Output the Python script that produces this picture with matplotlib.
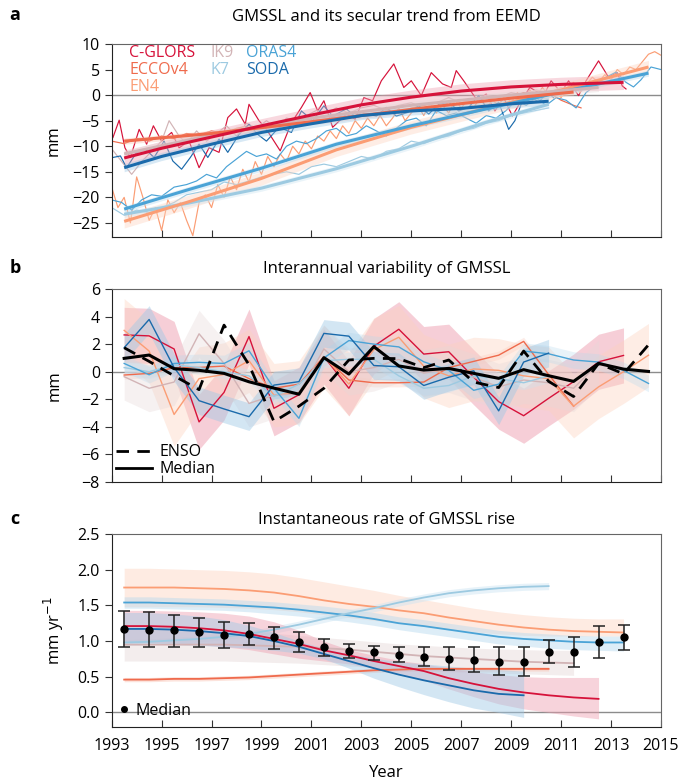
import numpy as np
import matplotlib.pyplot as plt
from matplotlib.lines import Line2D

plt.rcParams['font.family'] = ['Open Sans', 'DejaVu Sans']
plt.rcParams['font.size'] = 11.5

names = ['C-GLORS', 'ECCOv4', 'EN4', 'IK9', 'K7', 'ORAS4', 'SODA']
colors = {'C-GLORS': '#d6123a', 'ECCOv4': '#ef6a4c', 'EN4': '#fb9d74', 'IK9': '#d2b4b6',
          'K7': '#9dcae1', 'ORAS4': '#4aa3d6', 'SODA': '#1a6aab'}
band_colors = {'C-GLORS': '#ee9fb0', 'ECCOv4': '#f9c2b2', 'EN4': '#fdd3bf', 'IK9': '#e6d8d8',
               'K7': '#cbe4f2', 'ORAS4': '#b5d9ee', 'SODA': '#9fc9e6'}

# ---------- panel a: GMSSL (mm) ----------
raw_t = {
    'C-GLORS': [1993.05, 1993.3, 1993.53, 1993.75, 1994.1, 1994.4, 1994.67, 1995.0, 1995.4, 1995.7, 1996.1, 1996.5,
                1996.9, 1997.3, 1997.65, 1998.0, 1998.35, 1998.5, 1998.9, 1999.2, 1999.75, 2000.2, 2000.6, 2000.95,
                2001.25, 2001.5, 2001.85, 2002.4, 2002.75, 2003.1, 2003.45, 2003.8, 2004.3, 2004.7, 2005.0, 2005.4,
                2005.8, 2006.25, 2006.6, 2006.8, 2007.1, 2007.65, 2008.0, 2008.35, 2008.7, 2009.05, 2009.4, 2009.75,
                2010.3, 2010.6, 2011.0, 2011.3, 2011.7, 2012.0, 2012.5, 2012.9, 2013.25, 2013.45, 2013.6],
    'SODA': [1993.05, 1993.35, 1993.6, 1994.0, 1994.35, 1994.7, 1995.1, 1995.45, 1995.8, 1996.15, 1996.5, 1996.85,
             1997.3, 1997.65, 1998.1, 1998.5, 1998.85, 1999.2, 1999.7, 2000.2, 2000.6, 2001.05, 2001.5, 2001.85,
             2002.4, 2002.8, 2003.25, 2003.6, 2004.0, 2004.4, 2004.85, 2005.3, 2005.7, 2006.1, 2006.5, 2006.9,
             2007.3, 2007.7, 2008.1, 2008.5, 2008.9, 2009.15, 2009.4, 2009.75, 2010.1, 2010.45, 2010.7],
    'ORAS4': [1993.0, 1993.4, 1993.8, 1994.2, 1994.6, 1995.0, 1995.5, 1996.0, 1996.4, 1996.8, 1997.2, 1997.6,
              1998.0, 1998.4, 1998.8, 1999.2, 1999.6, 2000.0, 2000.4, 2000.8, 2001.2, 2001.6, 2002.0, 2002.4,
              2002.8, 2003.2, 2003.6, 2004.0, 2004.4, 2004.8, 2005.2, 2005.6, 2006.0, 2006.4, 2006.8, 2007.2,
              2007.6, 2008.0, 2008.4, 2008.8, 2009.2, 2009.6, 2010.0, 2010.4, 2010.8, 2011.2, 2011.6, 2012.0,
              2012.4, 2012.8, 2013.2, 2013.6, 2013.9, 2014.2, 2014.6, 2015.0],
    'K7': [1993.0, 1993.5, 1994.0, 1994.5, 1995.0, 1995.5, 1996.0, 1996.5, 1997.0, 1997.5, 1998.0, 1998.5,
           1999.0, 1999.5, 2000.0, 2000.5, 2001.0, 2001.5, 2002.0, 2002.5, 2003.0, 2003.5, 2004.0, 2004.5,
           2005.0, 2005.5, 2006.0, 2006.5, 2007.0, 2007.5, 2008.0, 2008.5, 2009.0, 2009.5, 2010.0, 2010.5],
    'EN4': [1993.0, 1993.25, 1993.5, 1993.75, 1994.0, 1994.25, 1994.5, 1994.75, 1995.0, 1995.25, 1995.5, 1995.75,
            1996.0, 1996.25, 1996.5, 1996.75, 1997.0, 1997.25, 1997.5, 1997.75, 1998.0, 1998.25, 1998.5, 1998.75,
            1999.0, 1999.25, 1999.5, 1999.75, 2000.0, 2000.25, 2000.5, 2000.75, 2001.0, 2001.25, 2001.5, 2001.75,
            2002.0, 2002.25, 2002.5, 2002.75, 2003.0, 2003.25, 2003.5, 2003.75, 2004.0, 2004.25, 2004.5, 2004.75,
            2005.0, 2005.25, 2005.5, 2005.75, 2006.0, 2006.25, 2006.5, 2006.75, 2007.0, 2007.25, 2007.5, 2007.75,
            2008.0, 2008.25, 2008.5, 2008.75, 2009.0, 2009.25, 2009.5, 2009.75, 2010.0, 2010.25, 2010.5, 2010.75,
            2011.0, 2011.25, 2011.5, 2011.75, 2012.0, 2012.25, 2012.5, 2012.75, 2013.0, 2013.25, 2013.5, 2013.75,
            2014.0, 2014.25, 2014.5, 2014.75, 2015.0],
    'ECCOv4': [1993.0, 1993.5, 1994.0, 1994.5, 1995.0, 1995.5, 1996.0, 1996.5, 1997.0, 1997.5, 1998.0, 1998.5,
               1999.0, 1999.5, 2000.0, 2000.5, 2001.0, 2001.5, 2002.0, 2002.5, 2003.0, 2003.5, 2004.0, 2004.5,
               2005.0, 2005.5, 2006.0, 2006.5, 2007.0, 2007.5, 2008.0, 2008.5, 2009.0, 2009.5, 2010.0, 2010.5,
               2011.0, 2011.5, 2011.8],
    'IK9': [1993.0, 1993.4, 1993.8, 1994.2, 1994.6, 1995.0, 1995.3, 1995.7, 1996.0, 1996.4, 1996.8, 1997.2,
            1997.6, 1998.0, 1998.4, 1998.8, 1999.2, 1999.6, 2000.0, 2000.4, 2000.8, 2001.2, 2001.6, 2002.0,
            2002.5, 2003.0, 2003.5, 2004.0, 2004.5, 2005.0, 2005.5, 2006.0, 2006.5, 2007.0, 2007.5, 2008.0,
            2008.5, 2009.0, 2009.5, 2010.0, 2010.5, 2011.0, 2011.5, 2012.0, 2012.5],
}
raw_v = {
    'C-GLORS': [-8.3, -4.9, -10.3, -12.2, -6.7, -9.6, -6.0, -9.0, -7.3, -10.3, -9.0, -14.2,
                -10.3, -11.2, -4.4, -2.7, -5.7, -1.8, -5.0, -6.7, -10.9, -5.4, -2.4, 0.5,
                -3.1, -1.1, -6.3, -3.7, -4.7, -0.5, -1.1, 2.8, 6.1, 1.5, 2.8, -0.1,
                4.4, 2.2, 1.5, 4.8, 2.8, -1.1, 0.2, -3.1, -0.5, -4.1, -1.1, 1.5,
                -0.1, 2.8, 0.5, 2.8, -0.1, 2.8, 6.7, 3.5, 4.4, 1.8, 1.2],
    'SODA': [-12.2, -11.9, -14.2, -11.2, -10.6, -12.2, -9.0, -12.9, -14.5, -12.2, -9.6, -12.2,
             -8.6, -11.2, -7.7, -5.7, -7.7, -9.0, -6.3, -7.3, -3.1, -5.0, -2.1, -4.1,
             -2.7, -4.4, -3.7, -4.1, -2.4, -4.1, -3.4, -2.1, -3.7, -1.8, -1.4, -3.1,
             -2.4, -0.1, -3.1, -1.4, -6.7, -5.0, -1.8, -0.1, -1.4, 0.5, -0.5],
    'ORAS4': [-20.5, -21.0, -22.5, -20.5, -19.5, -19.8, -18.0, -17.5, -16.8, -15.5, -16.2, -14.0,
              -12.5, -11.0, -12.0, -11.5, -12.5, -10.0, -9.0, -9.5, -8.5, -7.0, -6.5, -8.0,
              -7.5, -6.0, -7.0, -8.0, -6.5, -5.0, -4.5, -6.0, -3.0, -4.0, -3.5, -4.5,
              -5.5, -4.0, -4.5, -3.0, -1.0, -2.0, -0.5, -2.0, -0.5, -1.0, -2.5, 0.5,
              2.0, 3.5, 4.5, 2.5, 1.6, 3.0, 5.5, 5.0],
    'K7': [-22.0, -23.5, -22.5, -23.0, -22.0, -21.0, -19.5, -19.0, -18.5, -17.0, -17.5, -16.8,
           -16.0, -15.5, -15.0, -15.5, -14.0, -13.5, -14.0, -13.0, -12.0, -12.5, -11.0, -10.5,
           -9.0, -9.5, -8.5, -8.0, -7.0, -6.5, -5.5, -5.0, -4.0, -3.5, -3.0, -2.5],
    'EN4': [-18.0, -22.0, -20.0, -25.0, -16.0, -20.0, -24.5, -22.0, -26.5, -20.5, -23.0, -21.0,
            -24.5, -27.5, -21.0, -19.5, -22.0, -17.5, -20.0, -16.0, -18.5, -14.5, -17.0, -13.0,
            -15.5, -12.0, -14.0, -11.5, -13.0, -10.0, -11.5, -9.0, -10.5, -8.0, -9.0, -7.0,
            -8.5, -6.0, -7.5, -5.0, -6.5, -4.5, -6.0, -4.0, -6.0, -4.5, -2.5, -5.0,
            -3.5, -2.0, -4.0, -1.5, -3.5, -2.0, -3.5, -1.0, -2.5, -1.0, -2.5, -0.5,
            -2.5, -1.0, -2.0, 0.0, -1.5, 0.5, -1.0, 1.0, -0.5, 1.5, 0.0, 1.0,
            -0.5, 1.5, 2.5, 0.5, 2.0, 3.5, 2.5, 4.0, 3.0, 5.0, 4.0, 5.5,
            5.0, 6.5, 8.0, 8.5, 7.8],
    'ECCOv4': [-9.0, -9.5, -8.5, -9.0, -8.0, -8.5, -7.5, -7.8, -7.0, -7.5, -6.5, -6.0,
               -6.5, -6.0, -5.5, -5.0, -4.5, -5.0, -4.0, -4.5, -3.5, -4.0, -3.0, -3.5,
               -2.5, -2.0, -2.5, -1.5, -1.0, -1.5, -0.5, -1.0, -0.5, 0.5, 0.0, 0.5,
               -1.0, -2.0, -2.5],
    'IK9': [-10.5, -13.0, -15.5, -13.0, -11.0, -9.0, -5.0, -8.0, -9.5, -7.0, -9.0, -7.5,
            -6.0, -8.0, -5.5, -6.5, -5.0, -6.5, -4.5, -5.0, -4.0, -3.0, -3.5, -2.5,
            -3.5, -2.5, -2.0, -3.0, -2.0, -1.5, -2.5, -1.5, -0.5, -1.5, -1.0, 0.0,
            -0.5, 0.5, 0.0, 1.0, 0.5, 1.5, 1.0, 2.0, 1.5],
}
trend_t = {
    'C-GLORS': [1993.5, 1995, 1997, 1999, 2001, 2003, 2005, 2007, 2009, 2011, 2013.5],
    'ECCOv4': [1993.5, 1997, 2000, 2003, 2006, 2009, 2011.5],
    'EN4': [1993.5, 1996, 1999, 2002, 2005, 2008, 2011, 2014.5],
    'IK9': [1993.5, 1997, 2001, 2005, 2009, 2012.5],
    'K7': [1993.5, 1996, 1999, 2002, 2005, 2008, 2010.5],
    'ORAS4': [1993.5, 1996, 1999, 2002, 2005, 2008, 2011, 2014.5],
    'SODA': [1993.5, 1995, 1997, 1999, 2001, 2003, 2005, 2007, 2009, 2010.5],
}
trend_v = {
    'C-GLORS': [-12.3, -10.4, -8.2, -6.0, -3.9, -1.9, -0.4, 0.8, 1.6, 2.1, 2.5],
    'ECCOv4': [-9.0, -7.5, -5.8, -4.0, -2.2, -0.6, 0.6],
    'EN4': [-24.7, -21.0, -16.3, -10.7, -6.3, -2.6, 1.0, 5.5],
    'IK9': [-11.5, -7.8, -4.5, -2.0, 0.0, 1.5],
    'K7': [-23.3, -21.2, -18.2, -14.4, -10.0, -5.3, -1.8],
    'ORAS4': [-22.3, -18.6, -14.3, -9.6, -6.0, -2.7, 0.6, 4.3],
    'SODA': [-14.2, -12.0, -9.6, -7.3, -5.6, -4.0, -3.1, -2.6, -1.7, -1.2],
}
trend_spread = {'C-GLORS': 1.4, 'ECCOv4': 0.6, 'EN4': 1.3, 'IK9': 0.8, 'K7': 0.6, 'ORAS4': 0.6, 'SODA': 0.8}

# ---------- panel b: interannual variability (mm) ----------
years_b = [1993.5 + i for i in range(22)]
iav = {
    'C-GLORS': [2.67, 2.6, 1.65, -3.64, -1.5, 2.55, -2.65, -1.67, 1.1, -1.2, 1.85, 3.08, 1.28, 1.45, -0.4,
                -2.17, -3.19, -1.93, -0.72, 0.72, 1.18],
    'ECCOv4': [-0.24, -0.12, 0.29, 0.31, 0.41, -0.5, -1.2, -0.9, 1.1, -0.6, -0.8, -0.8, -0.75, 0.3, 0.75,
               1.2, 2.2, -0.2, -2.5],
    'EN4': [3.0, 1.5, -3.1, -0.5, -0.2, 0.8, -1.7, -1.5, 1.1, -0.9, 1.6, 2.5, 0.4, -0.3, 0.2,
            0.1, -0.3, -0.5, -2.5, -1.1, 0.0, 1.2],
    'IK9': [-0.36, -1.2, -0.75, 2.75, 0.6, -2.3, -1.7, -1.6, 1.65, 0.0, 0.3, 0.9, -0.1, 0.2, -0.4,
            -1.1, -0.6, -0.8, -1.2, 0.6],
    'K7': [0.3, 0.0, 0.5, 0.3, 0.0, -0.3, -1.8, -0.9, 0.8, 0.9, 0.9, -0.3, -1.2, -1.0, -0.3,
           -0.5, -0.8, -0.3],
    'ORAS4': [0.6, -0.22, 0.6, 0.68, 0.6, 1.52, -1.2, -3.38, 1.0, 2.26, 2.0, 1.8, 0.72, 0.1, -1.35,
              -0.9, 1.5, 1.3, 0.85, 0.7, 0.1, -0.85],
    'SODA': [1.74, 3.79, 0.3, -2.1, -2.7, -3.26, -0.97, -0.72, 2.78, 2.58, 0.45, 0.36, -1.0, -0.4, 0.07,
             -2.84, 0.7, 1.35],
}
iav_spread = {'C-GLORS': 2.0, 'ECCOv4': 0.3, 'EN4': 2.3, 'IK9': 1.7, 'K7': 0.5, 'ORAS4': 0.6, 'SODA': 1.0}
iav_alpha = {'C-GLORS': 0.5, 'ECCOv4': 0.3, 'EN4': 0.4, 'IK9': 0.35, 'K7': 0.35, 'ORAS4': 0.3, 'SODA': 0.45}
enso = [1.74, 0.75, -0.3, -1.3, 3.38, 0.5, -3.62, -2.5, -1.2, 0.85, 0.97, 0.95, 0.3, 0.85, -0.75,
        -1.15, 1.5, -0.7, -1.8, 0.6, -0.15, 1.95]
median_b = [0.97, 1.21, 0.22, 0.1, -0.12, -0.73, -1.19, -1.63, 1.02, -0.17, 1.82, 0.42, 0.12, 0.24, -0.12,
            -0.48, 0.15, -0.29, -0.7, 0.6, 0.19, 0.02]

# ---------- panel c: instantaneous rate (mm/yr) ----------
years_c = [1993.5 + i for i in range(21)]
rate = {
    'EN4': [1.75, 1.75, 1.75, 1.74, 1.73, 1.71, 1.68, 1.63, 1.57, 1.52, 1.48, 1.43, 1.39, 1.33, 1.28,
            1.23, 1.19, 1.16, 1.14, 1.13, 1.12],
    'ORAS4': [1.54, 1.54, 1.53, 1.52, 1.51, 1.49, 1.47, 1.44, 1.40, 1.36, 1.31, 1.25, 1.21, 1.16, 1.11,
              1.06, 1.03, 1.01, 0.99, 0.98, 0.98],
    'K7': [0.98, 0.99, 1.01, 1.03, 1.06, 1.10, 1.16, 1.23, 1.31, 1.39, 1.46, 1.54, 1.61, 1.67, 1.71,
           1.74, 1.76, 1.77],
    'IK9': [0.95, 0.95, 0.95, 0.95, 0.95, 0.94, 0.93, 0.92, 0.90, 0.88, 0.85, 0.82, 0.79, 0.77, 0.75,
            0.73, 0.71, 0.70, 0.69],
    'ECCOv4': [0.46, 0.46, 0.47, 0.47, 0.48, 0.49, 0.51, 0.53, 0.55, 0.57, 0.59, 0.60, 0.61, 0.61, 0.61,
               0.61, 0.61, 0.61],
    'C-GLORS': [1.21, 1.21, 1.20, 1.18, 1.15, 1.10, 1.03, 0.96, 0.87, 0.80, 0.72, 0.65, 0.58, 0.48, 0.40,
                0.33, 0.28, 0.24, 0.21, 0.19],
    'SODA': [1.17, 1.17, 1.16, 1.14, 1.11, 1.07, 1.00, 0.92, 0.82, 0.72, 0.62, 0.53, 0.45, 0.38, 0.31,
             0.26, 0.24],
}
rate_lo = {
    'EN4': [1.48, 1.48, 1.48, 1.48, 1.47, 1.46, 1.44, 1.41, 1.37, 1.33, 1.29, 1.25, 1.21, 1.17, 1.13,
            1.10, 1.08, 1.07, 1.07, 1.07, 1.07],
    'ORAS4': [1.46, 1.46, 1.45, 1.44, 1.43, 1.41, 1.38, 1.35, 1.31, 1.27, 1.22, 1.16, 1.11, 1.06, 1.01,
              0.96, 0.93, 0.90, 0.88, 0.87, 0.86],
    'K7': [0.94, 0.95, 0.97, 0.99, 1.02, 1.06, 1.11, 1.18, 1.26, 1.34, 1.41, 1.49, 1.56, 1.62, 1.66,
           1.69, 1.71, 1.72],
    'IK9': [0.72, 0.72, 0.72, 0.72, 0.72, 0.71, 0.70, 0.69, 0.67, 0.65, 0.63, 0.61, 0.59, 0.57, 0.56,
            0.55, 0.54, 0.53, 0.52],
    'ECCOv4': [0.43, 0.43, 0.44, 0.44, 0.45, 0.46, 0.48, 0.50, 0.52, 0.54, 0.56, 0.57, 0.58, 0.58, 0.58,
               0.58, 0.58, 0.58],
    'C-GLORS': [0.98, 0.98, 0.97, 0.95, 0.92, 0.88, 0.82, 0.76, 0.72, 0.68, 0.62, 0.55, 0.45, 0.33, 0.22,
                0.12, 0.05, 0.0, -0.05, -0.09],
    'SODA': [0.95, 0.95, 0.95, 0.94, 0.92, 0.90, 0.87, 0.83, 0.75, 0.62, 0.48, 0.36, 0.25, 0.15, 0.06,
             0.0, -0.07],
}
rate_hi = {
    'EN4': [2.02, 2.02, 2.01, 2.00, 1.99, 1.97, 1.94, 1.89, 1.83, 1.77, 1.71, 1.64, 1.58, 1.52, 1.46,
            1.41, 1.37, 1.34, 1.32, 1.31, 1.31],
    'ORAS4': [1.62, 1.62, 1.61, 1.60, 1.59, 1.57, 1.55, 1.52, 1.49, 1.45, 1.40, 1.34, 1.30, 1.25, 1.20,
              1.15, 1.12, 1.10, 1.08, 1.07, 1.07],
    'K7': [1.02, 1.03, 1.05, 1.07, 1.10, 1.14, 1.21, 1.28, 1.36, 1.44, 1.51, 1.59, 1.66, 1.72, 1.76,
           1.79, 1.81, 1.82],
    'IK9': [1.18, 1.18, 1.17, 1.16, 1.15, 1.13, 1.11, 1.08, 1.05, 1.02, 0.99, 0.96, 0.94, 0.92, 0.90,
            0.89, 0.88, 0.87, 0.87],
    'ECCOv4': [0.49, 0.49, 0.50, 0.50, 0.51, 0.52, 0.54, 0.56, 0.58, 0.60, 0.62, 0.63, 0.64, 0.64, 0.64,
               0.64, 0.64, 0.64],
    'C-GLORS': [1.43, 1.43, 1.42, 1.41, 1.39, 1.35, 1.27, 1.15, 1.00, 0.88, 0.80, 0.73, 0.68, 0.62, 0.57,
                0.53, 0.50, 0.49, 0.49, 0.49],
    'SODA': [1.40, 1.40, 1.38, 1.35, 1.30, 1.22, 1.12, 1.00, 0.90, 0.82, 0.76, 0.71, 0.68, 0.65, 0.62,
             0.60, 0.58],
}
median_c = [1.17, 1.16, 1.15, 1.12, 1.09, 1.10, 1.05, 0.98, 0.91, 0.86, 0.84, 0.80, 0.78, 0.75, 0.73,
            0.71, 0.70, 0.85, 0.84, 0.98, 1.05]
median_c_lo = [0.92, 0.92, 0.92, 0.92, 0.90, 0.94, 0.89, 0.84, 0.79, 0.76, 0.74, 0.70, 0.65, 0.60, 0.57,
               0.53, 0.51, 0.69, 0.64, 0.76, 0.87]
median_c_hi = [1.42, 1.41, 1.37, 1.33, 1.27, 1.25, 1.20, 1.12, 1.03, 0.96, 0.93, 0.92, 0.92, 0.91, 0.91,
               0.91, 0.91, 1.02, 1.05, 1.21, 1.23]

# ---------- figure ----------
fig = plt.figure(figsize=(6.86, 7.83), dpi=100)
L, W = 0.1628, 0.8007
ax_a = fig.add_axes([L, 0.6977, W, 0.2461])
ax_b = fig.add_axes([L, 0.3844, W, 0.2465])
ax_c = fig.add_axes([L, 0.0719, W, 0.2461])

for ax in (ax_a, ax_b, ax_c):
    ax.set_xlim(1993, 2015)
    ax.set_xticks(range(1993, 2016, 2))
    ax.tick_params(axis='x', direction='in', length=5, pad=8, labelsize=11.5, color='#333333')
    ax.tick_params(axis='y', direction='out', length=5, labelsize=11.5, color='#333333')
    ax.axhline(0, color='#8c8c8c', lw=1.0, zorder=1)
    for s in ('top', 'right'):
        ax.spines[s].set_color('#666666')
    for s in ('left', 'bottom'):
        ax.spines[s].set_color('#222222')
ax_a.tick_params(axis='x', labelbottom=False)
ax_b.tick_params(axis='x', labelbottom=False)

# panel a
for n in names:
    ax_a.plot(raw_t[n], raw_v[n], color=colors[n], lw=0.85, zorder=2)
for n in names:
    tv = np.array(trend_v[n])
    ax_a.fill_between(trend_t[n], tv - trend_spread[n], tv + trend_spread[n],
                      color=band_colors[n], alpha=0.4, lw=0, zorder=3)
for n in ['K7', 'EN4', 'ORAS4', 'IK9', 'ECCOv4', 'SODA', 'C-GLORS']:
    ax_a.plot(trend_t[n], trend_v[n], color=colors[n], lw=2.2, zorder=4, solid_capstyle='butt')
ax_a.set_ylim(-27.7, 10)
ax_a.set_yticks([10, 5, 0, -5, -10, -15, -20, -25])
ax_a.set_ylabel('mm', fontsize=12, labelpad=8)
leg_pos = {'C-GLORS': (0.032, 0.953), 'ECCOv4': (0.032, 0.865), 'EN4': (0.032, 0.777),
           'IK9': (0.179, 0.953), 'K7': (0.179, 0.865), 'ORAS4': (0.245, 0.953), 'SODA': (0.245, 0.865)}
for n in names:
    ax_a.text(*leg_pos[n], n, color=colors[n], fontsize=11.5, transform=ax_a.transAxes,
              ha='left', va='center')

# panel b
for n in names:
    yb = np.array(iav[n])
    xb = years_b[:len(yb)]
    ax_b.fill_between(xb, yb - iav_spread[n], yb + iav_spread[n], color=band_colors[n],
                      alpha=iav_alpha[n], lw=0, zorder=2)
for n in names:
    ax_b.plot(years_b[:len(iav[n])], iav[n], color=colors[n], lw=1.0, zorder=3)
ax_b.plot(years_b, enso, color='black', lw=2.0, ls=(0, (4.5, 3)), zorder=5)
ax_b.plot(years_b, median_b, color='black', lw=2.2, zorder=6)
ax_b.set_ylim(-8, 6)
ax_b.set_yticks([6, 4, 2, 0, -2, -4, -6, -8])
ax_b.set_ylabel('mm', fontsize=12, labelpad=14)
hb = [Line2D([], [], color='black', lw=2.0, ls=(0, (4.5, 3))), Line2D([], [], color='black', lw=2.0)]
ax_b.legend(hb, ['ENSO', 'Median'], loc='lower left', frameon=False, fontsize=11.5,
            handlelength=2.2, handletextpad=0.5, labelspacing=0.05, borderaxespad=0.1,
            borderpad=0.2)

# panel c
order_c = ['EN4', 'ORAS4', 'K7', 'IK9', 'ECCOv4', 'C-GLORS', 'SODA']
for n in order_c:
    xc = years_c[:len(rate[n])]
    ax_c.fill_between(xc, rate_lo[n], rate_hi[n], color=band_colors[n], alpha=0.45, lw=0, zorder=2)
for n in order_c:
    ax_c.plot(years_c[:len(rate[n])], rate[n], color=colors[n], lw=1.3, zorder=3)
mc = np.array(median_c)
ax_c.errorbar(years_c, mc, yerr=[mc - np.array(median_c_lo), np.array(median_c_hi) - mc],
              fmt='o', color='black', ms=5, ecolor='#222222', elinewidth=1.1, capsize=4.5,
              capthick=1.1, zorder=6)
ax_c.set_ylim(-0.2, 2.5)
ax_c.set_yticks([0.0, 0.5, 1.0, 1.5, 2.0, 2.5])
ax_c.set_yticklabels(['0.0', '0.5', '1.0', '1.5', '2.0', '2.5'])
ax_c.set_ylabel('mm yr$^{-1}$', fontsize=12, labelpad=8)
ax_c.set_xlabel('Year', fontsize=12, labelpad=8)
hc = [Line2D([], [], color='black', marker='o', ms=4, ls='none')]
ax_c.legend(hc, ['Median'], loc='lower left', frameon=False, fontsize=11.5, handlelength=0.6,
            handletextpad=0.4, borderaxespad=0.2, borderpad=0.3)

# titles and panel letters
cx = L + W / 2
fig.text(cx, 0.978, 'GMSSL and its secular trend from EEMD', ha='center', va='center', fontsize=12)
fig.text(cx, 0.656, 'Interannual variability of GMSSL', ha='center', va='center', fontsize=12)
fig.text(cx, 0.336, 'Instantaneous rate of GMSSL rise', ha='center', va='center', fontsize=12)
fig.text(0.022, 0.981, 'a', fontweight='bold', fontsize=13, ha='center', va='center')
fig.text(0.022, 0.658, 'b', fontweight='bold', fontsize=13, ha='center', va='center')
fig.text(0.022, 0.337, 'c', fontweight='bold', fontsize=13, ha='center', va='center')

fig.savefig('out.png', dpi=100)
